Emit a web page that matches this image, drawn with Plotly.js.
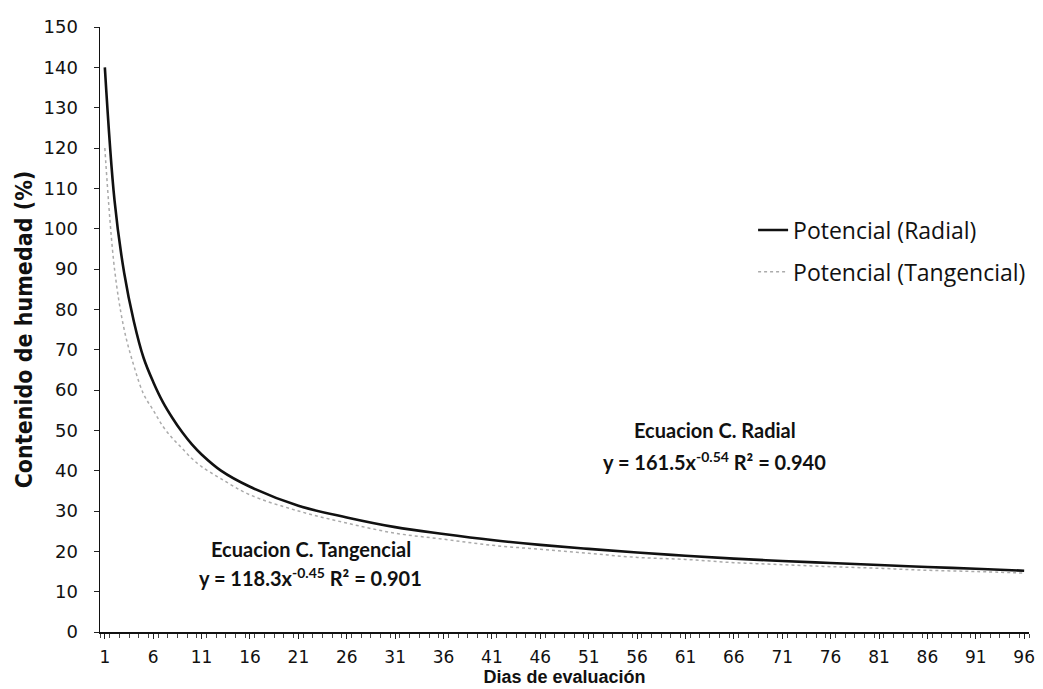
<!DOCTYPE html>
<html>
<head>
<meta charset="utf-8">
<script src="https://cdn.plot.ly/plotly-3.0.1.min.js"></script>
<style>
  html, body { margin: 0; padding: 0; background: #ffffff; }
  #chart { width: 1043px; height: 689px; }
</style>
</head>
<body>
<div id="chart"></div>
<script>
// Evaluation days (x) and fitted moisture content (%) for each cut
const radialDays = [1, 2, 3, 4, 5, 6, 7, 8, 9, 10, 11, 13, 16, 21, 26, 31, 36, 41, 46, 51, 56, 61, 66, 71, 76, 81, 86, 91, 96];
const radialValues = [140, 107, 89, 77, 68, 62, 57, 53, 49.5, 46.5, 44, 40, 36, 31.3, 28.4, 26, 24.3, 22.8, 21.6, 20.6, 19.7, 18.9, 18.2, 17.6, 17.1, 16.6, 16.1, 15.7, 15.2];

const tangDays = [1, 2, 3, 4, 5, 6, 7, 8, 9, 10, 11, 13, 16, 21, 26, 31, 36, 41, 46, 51, 56, 61, 66, 71, 76, 81, 86, 91, 96];
const tangValues = [120, 90, 75, 66, 59, 55, 51, 48, 45.5, 43, 41, 38, 34, 30, 27, 24.5, 23, 21.5, 20.5, 19.5, 18.5, 18, 17.2, 16.7, 16.2, 15.8, 15.3, 15, 14.6];

const xTickVals = [1, 6, 11, 16, 21, 26, 31, 36, 41, 46, 51, 56, 61, 66, 71, 76, 81, 86, 91, 96];
const yTickVals = [0, 10, 20, 30, 40, 50, 60, 70, 80, 90, 100, 110, 120, 130, 140, 150];

const legendNames = ['Potencial (Radial)', 'Potencial (Tangencial)'];
const eqRadial = ['Ecuacion C. Radial', 'y = 161.5x<sup>-0.54</sup> R² = 0.940'];
const eqTang = ['Ecuacion C. Tangencial', 'y = 118.3x<sup>-0.45</sup> R² = 0.901'];

const traces = [
  {
    x: radialDays, y: radialValues, name: legendNames[0],
    type: 'scatter', mode: 'lines',
    line: { color: '#111111', width: 2.6, shape: 'spline', smoothing: 1 },
    legendgroup: 'a'
  },
  {
    x: tangDays, y: tangValues, name: legendNames[1],
    type: 'scatter', mode: 'lines',
    line: { color: '#ababab', width: 1.5, dash: 'dot', shape: 'spline', smoothing: 1 },
    legendgroup: 'b'
  }
];

const eqFont = { family: 'Lato, "Open Sans", sans-serif', size: 20, color: '#111111', weight: 'bold' };

function eqNote(x, y, text) {
  return { xref: 'paper', yref: 'paper', x: x, y: y, xanchor: 'center', yanchor: 'middle',
           text: text, showarrow: false, font: eqFont };
}

const layout = {
  width: 1043, height: 689,
  margin: { l: 100, r: 14, t: 27, b: 57 },
  paper_bgcolor: '#ffffff', plot_bgcolor: '#ffffff',
  showlegend: true,
  legend: {
    x: 0.703, y: 0.70, xanchor: 'left', yanchor: 'top',
    font: { family: '"Open Sans", sans-serif', size: 23, color: '#111111' },
    itemwidth: 30, traceorder: 'grouped', tracegroupgap: 9,
    bgcolor: 'rgba(0,0,0,0)'
  },
  xaxis: {
    range: [0.5, 96.5],
    automargin: false,
    tickmode: 'array', tickvals: xTickVals, ticktext: xTickVals.map(String),
    ticks: 'outside', ticklen: 5, tickcolor: '#222', tickwidth: 1,
    minor: { dtick: 1, tick0: 0.5, ticks: 'outside', ticklen: 4, tickcolor: '#444', tickwidth: 1 },
    showgrid: false, zeroline: false,
    showline: true, linecolor: '#111', linewidth: 1.5,
    ticklabelstandoff: 4,
    tickfont: { family: '"DejaVu Sans", sans-serif', size: 17, color: '#111' },
    title: { text: 'Dias de evaluación', standoff: 3,
             font: { family: '"Liberation Sans", Arial, sans-serif', size: 18, color: '#111', weight: 'bold' } }
  },
  yaxis: {
    range: [0, 150],
    automargin: false,
    tickmode: 'array', tickvals: yTickVals,
    ticks: 'outside', ticklen: 5, tickcolor: '#222', tickwidth: 1,
    showgrid: false, zeroline: false,
    showline: true, linecolor: '#111', linewidth: 1.5,
    ticklabelstandoff: 12,
    tickfont: { family: '"DejaVu Sans", sans-serif', size: 18, color: '#111' },
    title: { text: 'Contenido de humedad (%)', standoff: 4,
             font: { family: '"Liberation Sans Narrow", "DejaVu Sans Condensed", "Liberation Sans", sans-serif', size: 23, color: '#111', weight: 'bold' } }
  },
  annotations: [
    eqNote(0.662, 0.334, eqRadial[0]),
    eqNote(0.662, 0.283, eqRadial[1]),
    eqNote(0.227, 0.137, eqTang[0]),
    eqNote(0.227, 0.091, eqTang[1])
  ]
};

Plotly.newPlot('chart', traces, layout, { displayModeBar: false, staticPlot: true });
</script>
</body>
</html>
